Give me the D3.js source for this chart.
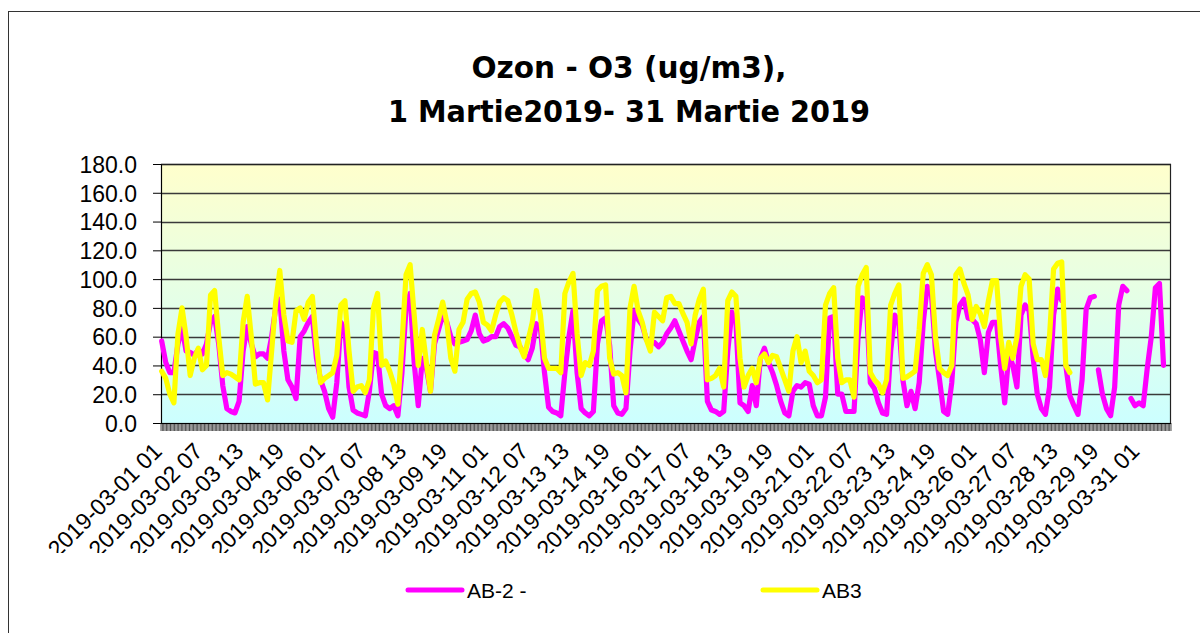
<!DOCTYPE html>
<html><head><meta charset="utf-8">
<script src="https://cdn.jsdelivr.net/npm/d3@7"></script>
<style>body{margin:0;background:#fff}svg{display:block}</style>
</head><body>
<svg id="chart" width="1200" height="633"></svg>
<script>
const titleLines = ["Ozon - O3 (ug/m3),", "1 Martie2019- 31 Martie 2019"];
const seriesNames = ["AB-2 -", "AB3"];
const seriesColors = ["#FF00FF", "#FFFF00"];
const yTicks = [0, 20, 40, 60, 80, 100, 120, 140, 160, 180];
const xTickIndex = [0, 30, 60, 90, 120, 150, 180, 210, 240, 270, 300, 330, 360, 390, 420, 450, 480, 510, 540, 570, 600, 630, 660, 690, 720];
const xTickLabels = ["2019-03-01 01", "2019-03-02 07", "2019-03-03 13", "2019-03-04 19", "2019-03-06 01", "2019-03-07 07", "2019-03-08 13", "2019-03-09 19", "2019-03-11 01", "2019-03-12 07", "2019-03-13 13", "2019-03-14 19", "2019-03-16 01", "2019-03-17 07", "2019-03-18 13", "2019-03-19 19", "2019-03-21 01", "2019-03-22 07", "2019-03-23 13", "2019-03-24 19", "2019-03-26 01", "2019-03-27 07", "2019-03-28 13", "2019-03-29 19", "2019-03-31 01"];
const hourCount = 744;
// values sampled every 3 hours (hour index 0 = 2019-03-01 01)
const sampleStep = 3;
const ab2Values = [
57,42,35,35,55,66,50,49,
47,51,48,55,70,74,55,26,
10,8,7,15,50,67,55,46,
48,48,45,60,80,86,50,30,
25,17,60,64,70,74,45,30,
22,10,4,28,70,65,25,9,
7,6,5,22,49,48,20,12,
10,12,5,35,80,90,42,12,
45,38,22,55,65,75,70,60,
55,56,57,58,64,75,62,57,
58,60,60,67,69,66,60,54,
53,48,44,52,69,66,35,11,
8,7,5,35,60,78,35,10,
7,5,8,55,71,73,54,12,
7,6,10,50,78,72,68,58,
55,56,53,56,62,66,71,64,
57,50,44,58,70,74,15,9,
8,6,8,50,77,70,14,12,
8,26,12,45,52,42,35,26,
15,7,5,22,26,25,28,27,
12,5,5,18,73,74,20,20,
8,8,8,60,87,85,28,24,
14,7,6,50,75,70,30,12,
22,10,28,70,95,90,50,30,
8,6,28,70,82,86,73,72,
69,58,35,63,70,70,40,14,
48,40,25,75,82,78,45,20,
10,6,25,75,93,85,40,19,
12,6,30,79,87,88,37,20,
10,5,25,82,95,92,17,12,
14,12,38,60,94,97,40,null];
const ab2GapHours = [664, 689, 713];
const ab3Values = [
36,31,20,14,62,80,60,33,
45,52,37,40,89,92,60,33,
35,34,32,30,70,88,60,27,
28,28,16,50,84,106,75,57,
56,78,80,72,84,88,55,28,
31,33,35,47,82,85,50,22,
25,26,21,30,80,90,40,43,
36,27,13,55,103,110,75,40,
65,42,22,61,72,84,70,45,
36,65,70,86,90,91,84,70,
68,64,75,84,87,85,75,63,
53,46,58,70,92,75,45,38,
38,38,35,90,98,104,62,33,
42,40,50,92,95,96,45,34,
35,33,21,80,95,78,70,58,
50,77,74,71,87,88,83,83,
76,70,55,75,86,93,30,31,
33,38,25,85,91,88,45,25,
33,38,28,45,48,42,47,46,
38,30,22,50,60,42,50,36,
33,28,30,82,90,94,45,28,
30,30,18,95,103,108,35,30,
27,21,30,82,90,96,31,32,
34,36,65,104,110,103,60,38,
35,33,40,103,107,97,89,72,
81,76,67,85,99,99,60,38,
56,45,60,95,103,100,55,44,
44,33,60,107,111,112,40,35,
null,null,null,null,null,null,null,null,
null,null,null,null,null,null,null,null,
null,null,null,null,null,null,null,null];

const svg = d3.select("#chart");
const plot = {left: 161, top: 164, right: 1171, bottom: 423};
const x = d3.scaleLinear().domain([-0.5, hourCount - 0.5]).range([plot.left, plot.right]);
const y = d3.scaleLinear().domain([0, 180]).range([plot.bottom, plot.top]);

// outer border
svg.append("rect").attr("x", 8.5).attr("y", 11.5).attr("width", 1250).attr("height", 700)
  .attr("fill", "#fff").attr("stroke", "#333").attr("stroke-width", 1);

// background gradient
const defs = svg.append("defs");
const grad = defs.append("linearGradient").attr("id", "bg").attr("x1", 0).attr("y1", 0).attr("x2", 0).attr("y2", 1);
grad.append("stop").attr("offset", "0%").attr("stop-color", "#FFFFCC");
grad.append("stop").attr("offset", "100%").attr("stop-color", "#CCFFFF");
defs.append("clipPath").attr("id", "labclip").append("rect").attr("x", 0).attr("y", 0).attr("width", 1200).attr("height", 553);

svg.append("rect").attr("x", plot.left).attr("y", plot.top)
  .attr("width", plot.right - plot.left).attr("height", plot.bottom - plot.top)
  .attr("fill", "url(#bg)");

// gridlines
svg.append("g").selectAll("line").data(yTicks.filter(v => v > 0)).join("line")
  .attr("x1", plot.left).attr("x2", plot.right)
  .attr("y1", d => Math.round(y(d)) + 0.5).attr("y2", d => Math.round(y(d)) + 0.5)
  .attr("stroke", "#3a3a3a").attr("stroke-width", 1.7);

// plot border
svg.append("rect").attr("x", plot.left + 0.5).attr("y", plot.top + 0.5)
  .attr("width", plot.right - plot.left - 1).attr("height", plot.bottom - plot.top)
  .attr("fill", "none").attr("stroke", "#222").attr("stroke-width", 1.2);

// y axis
const yAxis = d3.axisLeft(y).tickValues(yTicks).tickSize(8).tickPadding(16).tickFormat(d3.format(".1f"));
const yg = svg.append("g").attr("transform", `translate(${plot.left},0)`).call(yAxis);
yg.select(".domain").attr("stroke", "#000");
yg.selectAll(".tick line").attr("stroke", "#000");
yg.selectAll(".tick text").attr("font-family", "'Liberation Sans', Arial, sans-serif")
  .attr("font-size", 23).attr("fill", "#000").attr("dy", "0.36em");

// x axis dense tick marks (one per hour category boundary)
const xb = d3.scaleBand().domain(d3.range(hourCount)).range([plot.left, plot.right]);
svg.append("g").selectAll("line").data(d3.range(hourCount + 1)).join("line")
  .attr("x1", d => plot.left + d * xb.step()).attr("x2", d => plot.left + d * xb.step())
  .attr("y1", plot.bottom).attr("y2", plot.bottom + 8)
  .attr("stroke", "#222").attr("stroke-width", 0.8);
svg.append("line").attr("x1", plot.left).attr("x2", plot.right)
  .attr("y1", plot.bottom + 0.5).attr("y2", plot.bottom + 0.5).attr("stroke", "#000");

// x labels
const lg = svg.append("g").attr("clip-path", "url(#labclip)");
lg.selectAll("text").data(xTickIndex).join("text")
  .attr("transform", d => `translate(${x(d) - 4},447) rotate(-45)`)
  .attr("text-anchor", "end").attr("dy", "0.35em")
  .attr("font-family", "'Liberation Sans', Arial, sans-serif").attr("font-size", 23).attr("fill", "#000")
  .text((d, i) => xTickLabels[i]);

// series
function toPoints(values, gaps) {
  const pts = values.map((v, i) => ({h: i * sampleStep, v: v}));
  (gaps || []).forEach(g => pts.push({h: g, v: null}));
  return pts.sort((a, b) => a.h - b.h);
}
const line = d3.line().defined(d => d.v !== null).x(d => x(d.h)).y(d => y(d.v));
const seriesData = [toPoints(ab2Values, ab2GapHours), toPoints(ab3Values, [])];
seriesData.forEach((pts, i) => {
  svg.append("path").datum(pts).attr("d", line)
    .attr("fill", "none").attr("stroke", seriesColors[i]).attr("stroke-width", 5.2)
    .attr("stroke-linejoin", "round").attr("stroke-linecap", "round");
});

// title
const tg = svg.append("g").attr("font-family", "'DejaVu Sans', Verdana, sans-serif")
  .attr("font-weight", "bold").attr("font-size", 31).attr("fill", "#000").attr("text-anchor", "middle");
const titleBase = [78, 122];
const titleLen = [315, 482];
titleLines.forEach((t, i) => {
  tg.append("text").attr("x", 629).attr("y", titleBase[i]).attr("textLength", titleLen[i])
    .attr("lengthAdjust", "spacingAndGlyphs").text(t);
});

// legend
const legendX = [408, 763];
seriesNames.forEach((n, i) => {
  svg.append("line").attr("x1", legendX[i]).attr("x2", legendX[i] + 54).attr("y1", 590).attr("y2", 590)
    .attr("stroke", seriesColors[i]).attr("stroke-width", 5).attr("stroke-linecap", "round");
  svg.append("text").attr("x", legendX[i] + 59).attr("y", 598)
    .attr("font-family", "'Liberation Sans', Arial, sans-serif").attr("font-size", 21).attr("fill", "#000").text(n);
});
</script>
</body></html>
